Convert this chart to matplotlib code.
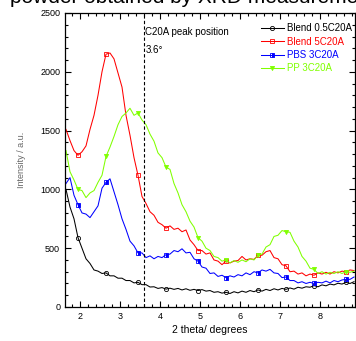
import numpy as np
import matplotlib
matplotlib.use("Agg")
import matplotlib.pyplot as plt
from matplotlib.ticker import MultipleLocator

plt.rcParams['font.family'] = ['Liberation Sans', 'DejaVu Sans']

# intensity readings, 2theta from 1.65 deg in 0.1 deg steps
blend_05 = [1000, 850, 750, 590, 500, 410, 370, 315, 305, 285, 290, 265, 265, 245, 245, 225, 225, 205, 210, 190,
            190, 170, 172, 158, 165, 152, 160, 150, 158, 145, 155, 142, 150, 140, 148, 135, 140, 125, 130, 118,
            125, 115, 130, 120, 135, 125, 140, 130, 145, 135, 150, 140, 155, 145, 158, 150, 162, 152, 168, 160,
            172, 168, 182, 172, 188, 180, 195, 188, 202, 195, 210, 200, 215]
blend_5 = [1510, 1415, 1330, 1290, 1320, 1370, 1510, 1630, 1800, 2000, 2150, 2160, 2110, 1990, 1870, 1630, 1460,
           1270, 1120, 940, 880, 810, 780, 720, 700, 670, 690, 660, 670, 640, 655, 570, 530, 480, 480, 450, 460,
           400, 390, 360, 390, 375, 390, 395, 430, 400, 410, 405, 440, 440, 470, 480, 420, 410, 360, 350, 300,
           305, 280, 290, 265, 280, 270, 290, 280, 295, 280, 300, 290, 305, 300, 315, 310]
pbs_3 = [1050, 1100, 950, 870, 800, 790, 760, 810, 860, 1010, 1060, 1090, 980, 870, 750, 660, 560, 520, 460, 460,
         420, 435, 410, 430, 420, 445, 450, 480, 470, 495, 460, 465, 410, 390, 340, 330, 285, 290, 260, 270, 250,
         265, 255, 275, 265, 290, 275, 300, 290, 315, 305, 320, 290, 285, 250, 255, 225, 225, 205, 215, 200, 210,
         200, 210, 205, 220, 205, 225, 215, 230, 235, 235, 255]
pp_3 = [1330, 1150, 1080, 1000, 990, 930, 970, 990, 1060, 1120, 1280, 1360, 1450, 1550, 1620, 1650, 1690, 1630,
        1650, 1590, 1550, 1470, 1410, 1310, 1270, 1190, 1170, 1050, 970, 870, 810, 730, 680, 590, 560, 500, 480,
        430, 420, 390, 400, 375, 395, 380, 400, 385, 410, 400, 440, 450, 510, 530, 600, 610, 650, 640, 635, 560,
        510, 430, 390, 330, 320, 285, 300, 280, 295, 285, 300, 285, 300, 295, 305]
two_theta = np.round(1.65 + 0.1 * np.arange(len(blend_05)), 2)

labels = ['Blend 0.5C20A', 'Blend 5C20A', 'PBS 3C20A', 'PP 3C20A']
colors = ['black', '#ff0000', '#0000ff', '#80ff00']
peak_pos = 3.6

mark_idx = [3, 10, 18, 25, 33, 40, 48, 55, 62, 70]

fig = plt.figure(figsize=(3.56, 3.41), dpi=100)
ax = fig.add_axes([65 / 356, 1 - 307 / 341, 290 / 356, 294 / 341])

ax.plot(two_theta, blend_05, color=colors[0], lw=0.75, marker='o', ms=3, mfc='none', mew=0.6,
        markevery=mark_idx, label=labels[0])
ax.plot(two_theta, blend_5, color=colors[1], lw=0.75, marker='s', ms=3, mfc='none', mew=0.6,
        markevery=mark_idx, label=labels[1])
ax.plot(two_theta, pbs_3, color=colors[2], lw=0.75, marker='s', ms=3, fillstyle='right', mew=0.6,
        markevery=mark_idx, label=labels[2])
ax.plot(two_theta, pp_3, color=colors[3], lw=0.75, marker='v', ms=3, mew=0.6,
        markevery=mark_idx, label=labels[3])

ax.axvline(peak_pos, color='black', ls='--', lw=0.8, dashes=(3, 2))
ax.text(peak_pos + 0.03, 2340, 'C20A peak position', fontsize=7, va='center', ha='left')
ax.text(peak_pos + 0.03, 2185, '3.6°', fontsize=7, va='center', ha='left')

ax.set_xlim(1.625, 8.875)
ax.set_ylim(0, 2500)
ax.xaxis.set_major_locator(MultipleLocator(1))
ax.xaxis.set_minor_locator(MultipleLocator(0.2))
ax.yaxis.set_major_locator(MultipleLocator(500))
ax.yaxis.set_minor_locator(MultipleLocator(100))
ax.tick_params(which='both', direction='in', top=True, right=True, labelsize=6.5, width=0.8)
ax.tick_params(which='major', length=4)
ax.tick_params(which='minor', length=2.5)
for s in ax.spines.values():
    s.set_linewidth(0.9)

ax.set_xlabel('2 theta/ degrees', fontsize=7.5, labelpad=3)
ax.set_ylabel('Intensity / a.u.', fontsize=6.5, color='#666666', labelpad=10)

leg = ax.legend(loc='upper right', bbox_to_anchor=(1.01, 0.985), frameon=False, fontsize=7,
                handlelength=2.4, handletextpad=0.3, labelspacing=0.35, borderaxespad=0.2, labelcolor=colors)

# caption line above the chart, only its lower edge shows in the crop
fig.text(10 / 356, 1 - 3 / 341, 'powder obtained by XRD measurements', fontsize=15, ha='left', va='baseline')

fig.savefig('out.png', dpi=100)
